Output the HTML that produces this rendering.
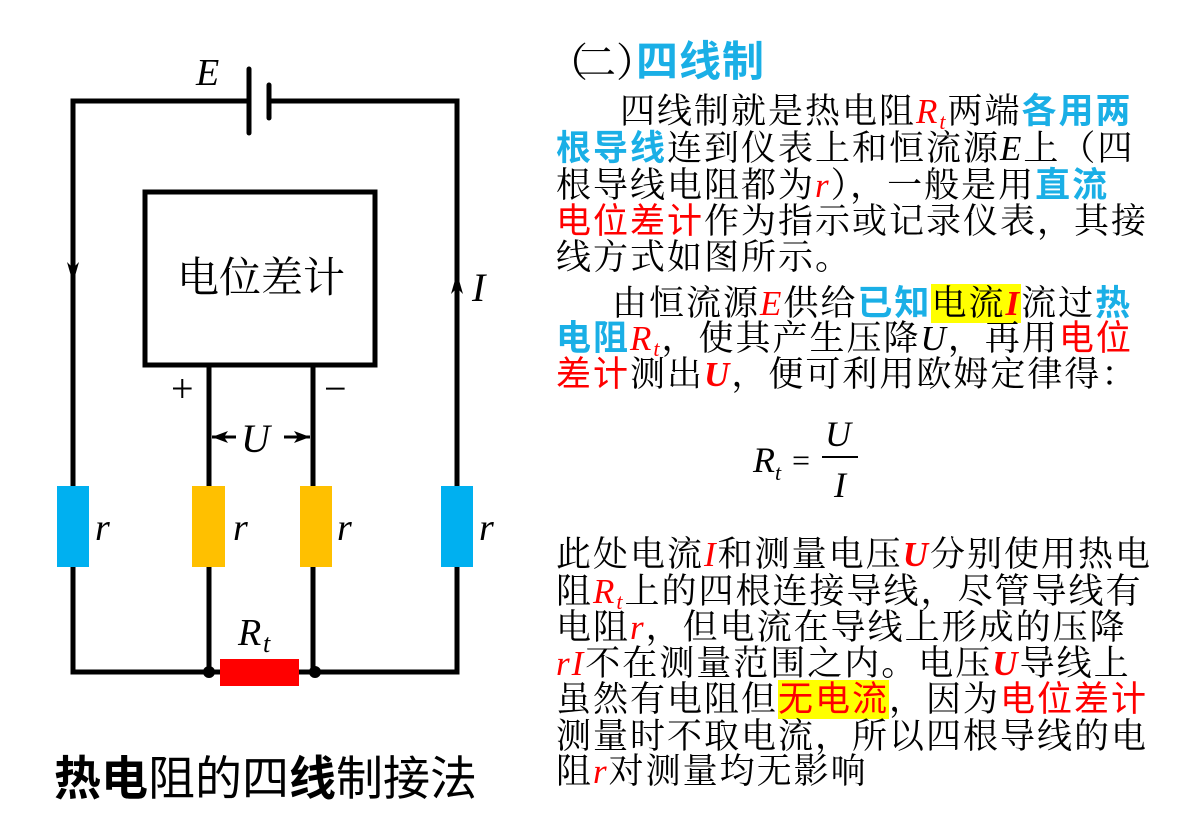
<!DOCTYPE html>
<html><head><meta charset="utf-8"><style>
body{margin:0;width:1179px;height:816px;background:#fff;position:relative;overflow:hidden;font-family:"Liberation Serif","Noto Serif CJK SC",serif;}
.l{position:absolute;left:556px;height:36px;line-height:36px;font-size:35px;letter-spacing:2px;white-space:nowrap;color:#000;}
.b{color:#1aafe6;font-family:"Liberation Sans","Noto Sans CJK SC",sans-serif;font-weight:bold;}
.r{color:#f00;font-family:"Liberation Sans","Noto Sans CJK SC",sans-serif;}
.v{color:#f00;font-style:italic;font-family:"Liberation Serif",serif;}
.vb{color:#f00;font-style:italic;font-weight:bold;font-family:"Liberation Serif",serif;}
i{font-family:"Liberation Serif",serif;}
.hl{background:#ffff00;}
sub{font-size:22px;vertical-align:-6px;line-height:0;}
</style></head><body>
<svg width="1179" height="816" style="position:absolute;left:0;top:0" font-family="Liberation Serif, serif">
<g stroke="#000" stroke-width="5" fill="none">
<polyline points="249,101 73,101 73,672 457,672 457,101 269,101"/>
<rect x="145" y="192" width="230" height="173"/>
<line x1="209" y1="365" x2="209" y2="672"/>
<line x1="313" y1="365" x2="313" y2="672"/>
<line x1="249" y1="69" x2="249" y2="133" stroke-linecap="round"/>
<line x1="269" y1="85" x2="269" y2="118" stroke-linecap="round"/>
</g>
<line x1="212" y1="437" x2="236" y2="437" stroke="#000" stroke-width="3"/>
<line x1="284" y1="437" x2="310" y2="437" stroke="#000" stroke-width="3"/>
<polygon points="212,437 228,431 224,437 228,443" fill="#000"/>
<polygon points="310,437 294,431 298,437 294,443" fill="#000"/>
<polygon points="73,283 67,262 73,268 79,262" fill="#000"/>
<polygon points="457,273 451,294 457,288 463,294" fill="#000"/>
<rect x="57" y="486" width="32" height="81" fill="#00b0f0"/>
<rect x="441" y="486" width="32" height="81" fill="#00b0f0"/>
<rect x="192" y="486" width="33" height="81" fill="#ffc000"/>
<rect x="300" y="486" width="32" height="81" fill="#ffc000"/>
<rect x="220" y="659" width="79" height="27" fill="#f00"/>
<circle cx="209" cy="672" r="6" fill="#000"/>
<circle cx="315" cy="672" r="6" fill="#000"/>
<text x="196" y="85" font-size="38" font-style="italic">E</text>
<text x="472" y="301" font-size="40" font-style="italic">I</text>
<text x="241" y="452" font-size="40" font-style="italic">U</text>
<text x="171" y="402" font-size="40">+</text>
<text x="324" y="402" font-size="40">−</text>
<text x="95" y="540" font-size="38" font-style="italic">r</text>
<text x="233" y="540" font-size="38" font-style="italic">r</text>
<text x="337" y="540" font-size="38" font-style="italic">r</text>
<text x="479" y="540" font-size="38" font-style="italic">r</text>
<text x="238" y="645" font-size="38" font-style="italic">R</text>
<text x="263" y="652" font-size="26" font-style="italic">t</text>
<text x="261" y="292" font-size="42" text-anchor="middle" font-family="Liberation Serif, Noto Serif CJK SC, serif">电位差计</text>
<text x="54" y="795" font-size="47" font-family="Liberation Sans, Noto Sans CJK SC, sans-serif"><tspan font-weight="bold">热电</tspan>阻的四<tspan font-weight="bold">线</tspan>制接法</text>
<text x="753" y="472" font-size="36" font-style="italic">R</text>
<text x="775" y="480" font-size="22" font-style="italic">t</text>
<text x="792" y="471" font-size="32">=</text>
<text x="825" y="446" font-size="36" font-style="italic">U</text>
<line x1="822" y1="457" x2="858" y2="457" stroke="#000" stroke-width="2"/>
<text x="834" y="497" font-size="36" font-style="italic">I</text>
</svg>
<div class="l" style="top:40px;left:548px;font-size:40px;height:44px;line-height:44px;letter-spacing:0"><span style="letter-spacing:-12px">（</span>二<span style="letter-spacing:-20px">）</span><span class="b" style="letter-spacing:1px;font-size:42px">四线制</span></div>
<div class="l" style="top:94px;left:620px">四线制就是热电阻<span class="v">R<sub>t</sub></span>两端<span class="b">各用两</span></div>
<div class="l" style="top:131px"><span class="b">根导线</span>连到仪表上和恒流源<i>E</i>上（四</div>
<div class="l" style="top:168px">根导线电阻都为<span class="v">r</span>），一般是用<span class="b">直流</span></div>
<div class="l" style="top:204px"><span class="r">电位差计</span>作为指示或记录仪表，其接</div>
<div class="l" style="top:240px">线方式如图所示。</div>
<div class="l" style="top:286px;left:612px">由恒流源<span class="v">E</span>供给<span class="b">已知</span><span class="hl">电流<span class="vb">I</span></span>流过<span class="b">热</span></div>
<div class="l" style="top:321px"><span class="b">电阻</span><span class="v">R<sub>t</sub></span>，使其产生压降<i>U</i>，再用<span class="r">电位</span></div>
<div class="l" style="top:357px"><span class="r">差计</span>测出<span class="vb">U</span>，便可利用欧姆定律得：</div>
<div class="l" style="top:537px">此处电流<span class="v">I</span>和测量电压<span class="vb">U</span>分别使用热电</div>
<div class="l" style="top:574px">阻<span class="v">R<sub>t</sub></span>上的四根连接导线，尽管导线有</div>
<div class="l" style="top:610px">电阻<span class="v">r</span>，但电流在导线上形成的压降</div>
<div class="l" style="top:646px"><span class="v">rI</span>不在测量范围之内。电压<span class="vb">U</span>导线上</div>
<div class="l" style="top:682px">虽然有电阻但<span class="hl r">无电流</span>，因为<span class="r">电位差计</span></div>
<div class="l" style="top:719px">测量时不取电流，所以四根导线的电</div>
<div class="l" style="top:754px">阻<span class="v">r</span>对测量均无影响</div>
</body></html>
